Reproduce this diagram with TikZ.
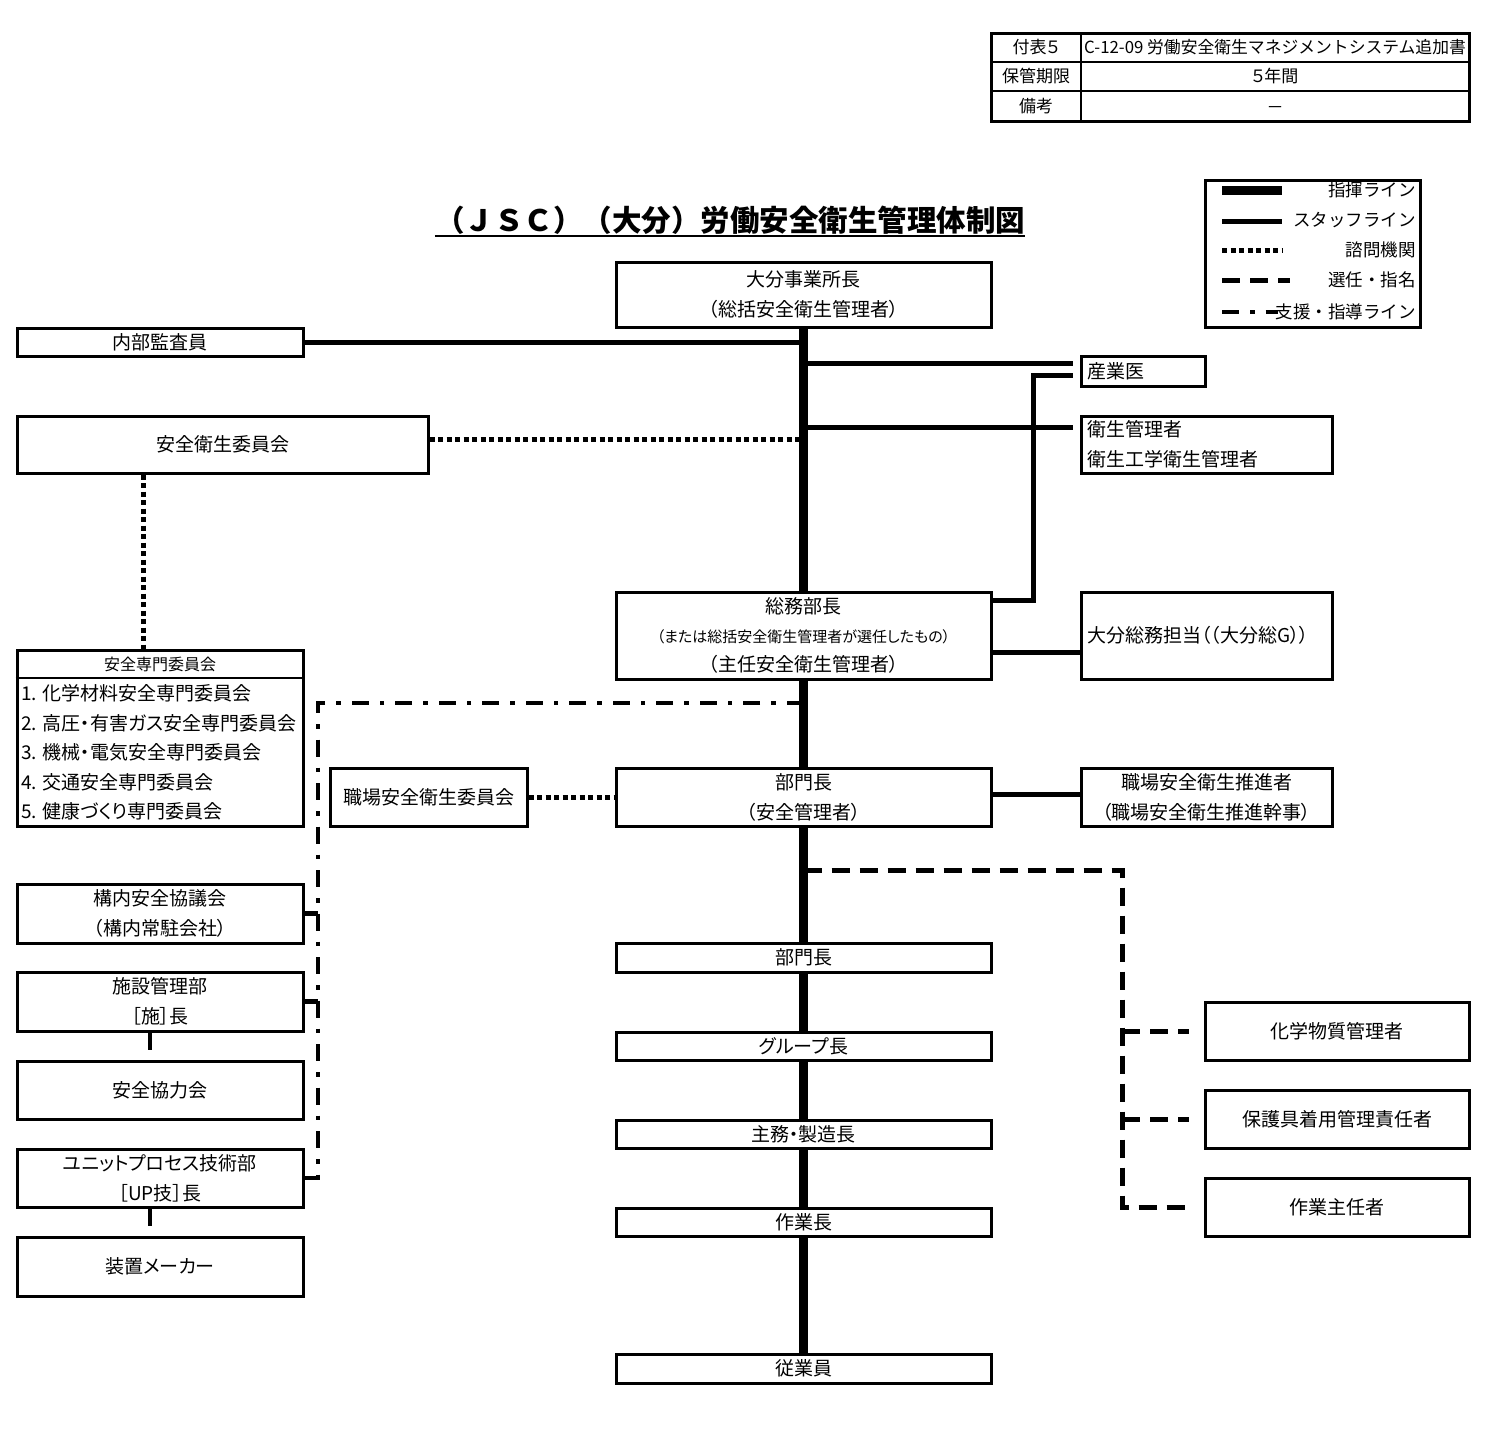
\documentclass[tikz,border=0pt]{standalone}
\usepackage{fontspec}
\setmainfont{Noto Sans CJK JP}[RawFeature=+palt]
\newfontfamily\titlefont{Noto Sans CJK JP}
\usetikzlibrary{calc}
\begin{document}
\begin{tikzpicture}[x=1pt,y=-1pt,
  box/.style={draw, line width=3pt, fill=white, inner sep=0pt, align=center, font=\fontsize{19}{30}\selectfont},
  lbox/.style={box, align=left, inner xsep=6pt},
  lbl/.style={inner sep=0pt, font=\fontsize{19}{30}\selectfont},
  tt/.style={inner sep=0pt, font=\fontsize{17}{20}\selectfont},
  lgt/.style={inner sep=0pt, anchor=east, font=\titlefont\fontsize{17.5}{20}\selectfont},
  cmd/.style={line width=9pt},
  staff/.style={line width=5pt},
  advis/.style={line width=5pt, dash pattern=on 5pt off 3.5pt},
  appoint/.style={line width=5pt, dash pattern=on 18pt off 10pt},
  support/.style={line width=4.5pt, dash pattern=on 17pt off 11pt on 4.5pt off 11pt},
]
\fill[white] (0,0) rectangle (1500,1451);
\useasboundingbox (0,0) rectangle (1500,1451);

% ---- header table ----
\draw[line width=3pt] (991,33) rectangle (1469,121);
\draw[line width=2.5pt] (991,62) -- (1469,62);
\draw[line width=2.5pt] (991,91) -- (1469,91);
\draw[line width=2.5pt] (1081,33) -- (1081,121);
\node[tt] (t11) at (1036,47.5) {付表５};
\node[tt, anchor=west, font=\titlefont\fontsize{16.8}{18}\selectfont] (t12) at (1084,47.5) {C-12-09 労働安全衛生マネジメントシステム追加書};
\node[tt] (t21) at (1036,76.5) {保管期限};
\node[tt] (t22) at (1275,76.5) {５年間};
\node[tt] (t31) at (1036,106) {備考};
\node[tt] (t32) at (1275,110.5) {－};

% ---- title ----
\node[inner sep=0pt, font=\titlefont\fontsize{29.5}{30}\bfseries\selectfont, anchor=base] (title) at (730,231) {（ＪＳＣ）（大分）労働安全衛生管理体制図};
\draw[line width=2pt] ([yshift=-5pt]title.base west) -- ([yshift=-5pt]title.base east);

% ---- legend ----
\node[draw, line width=3pt, minimum width=215pt, minimum height=147pt, inner sep=0pt] (legend) at (1312.5,253.5) {};
\draw[cmd] (1222,190) -- (1282,190);
\draw[staff] (1222,221) -- (1282,221);
\draw[advis] (1222,250) -- (1282,250);
\draw[appoint] (1222,280) -- (1290,280);
\draw[support] (1222,312) -- (1278,312);
\node[lgt] (lg1) at (1416,190) {指揮ライン};
\node[lgt] (lg2) at (1416,220) {スタッフライン};
\node[lgt] (lg3) at (1416,250) {諮問機関};
\node[lgt] (lg4) at (1416,280) {選任・指名};
\node[lgt] (lg5) at (1416,312) {支援・指導ライン};

% ---- centre column ----
\node[box, minimum width=375pt, minimum height=65pt] (jigyo) at (803.5,294.5) {大分事業所長\\（総括安全衛生管理者）};
\node[box, minimum width=375pt, minimum height=87pt, font=\fontsize{19}{29}\selectfont] (somu) at (803.5,635.5) {総務部長\\{\fontsize{15}{29}\selectfont （または総括安全衛生管理者が選任したもの）}\\（主任安全衛生管理者）};
\node[box, minimum width=375pt, minimum height=58pt] (bumon1) at (803.5,797) {部門長\\（安全管理者）};
\node[box, minimum width=375pt, minimum height=29pt] (bumon2) at (803.5,957.5) {部門長};
\node[box, minimum width=375pt, minimum height=28pt] (group) at (803.5,1046) {グループ長};
\node[box, minimum width=375pt, minimum height=28pt] (shumu) at (803.5,1134) {主務・製造長};
\node[box, minimum width=375pt, minimum height=28pt] (sagyocho) at (803.5,1222) {作業長};
\node[box, minimum width=375pt, minimum height=29pt] (jugyoin) at (803.5,1368.5) {従業員};

% ---- left column ----
\node[box, minimum width=286pt, minimum height=28pt] (naibu) at (160,342) {内部監査員};
\node[box, minimum width=411pt, minimum height=57pt] (anzeniinkai) at (222.5,444.5) {安全衛生委員会};
\node[box, minimum width=286pt, minimum height=176pt] (senmon) at (160,738) {};
\draw[line width=2.5pt] (senmon.west |- 0,678) -- (senmon.east |- 0,678);
\node[lbl, font=\fontsize{16}{20}\selectfont] (senmonhead) at (160,664) {安全専門委員会};
\node[lbl, anchor=west] (it1) at (21,693) {1. 化学材料安全専門委員会};
\node[lbl, anchor=west, fill=white, inner ysep=3pt] (it2) at (21,723) {2. 高圧・有害ガス安全専門委員会};
\node[lbl, anchor=west] (it3) at (21,752) {3. 機械・電気安全専門委員会};
\node[lbl, anchor=west] (it4) at (21,782) {4. 交通安全専門委員会};
\node[lbl, anchor=west] (it5) at (21,811) {5. 健康づくり専門委員会};
\node[box, minimum width=197pt, minimum height=58pt] (shokuba) at (428.5,797) {職場安全衛生委員会};
\node[box, minimum width=286pt, minimum height=59pt] (konai) at (160,913.5) {構内安全協議会\\（構内常駐会社）};
\node[box, minimum width=286pt, minimum height=59pt] (shisetsu) at (160,1001.5) {施設管理部\\［施］長};
\node[box, minimum width=286pt, minimum height=58pt] (kyoryoku) at (160,1090) {安全協力会};
\node[box, minimum width=286pt, minimum height=58pt] (unit) at (160,1178) {ユニットプロセス技術部\\［UP技］長};
\node[box, minimum width=286pt, minimum height=59pt] (sochi) at (160,1266.5) {装置メーカー};

% ---- right column ----
\node[lbox, minimum width=124pt, text width=112pt, minimum height=30pt] (sangyoi) at (1143,371) {産業医};
\node[lbox, minimum width=251pt, text width=239pt, minimum height=57pt] (eisei) at (1206.5,444.5) {衛生管理者\\衛生工学衛生管理者};
\node[lbox, minimum width=251pt, text width=239pt, minimum height=87pt] (oita) at (1206.5,635.5) {大分総務担当（（大分総G））};
\node[box, minimum width=251pt, minimum height=58pt] (suishin) at (1206.5,797) {職場安全衛生推進者\\（職場安全衛生推進幹事）};
\node[box, minimum width=264pt, minimum height=58pt] (kagaku) at (1337,1031) {化学物質管理者};
\node[box, minimum width=264pt, minimum height=58pt] (hogo) at (1337,1119) {保護具着用管理責任者};
\node[box, minimum width=264pt, minimum height=58pt] (sagyoshunin) at (1337,1207) {作業主任者};

% ---- command line ----
\draw[cmd] (jigyo.south) -- (somu.north);
\draw[cmd] (somu.south) -- (bumon1.north);
\draw[cmd] (bumon1.south) -- (bumon2.north);
\draw[cmd] (bumon2.south) -- (group.north);
\draw[cmd] (group.south) -- (shumu.north);
\draw[cmd] (shumu.south) -- (sagyocho.north);
\draw[cmd] (sagyocho.south) -- (jugyoin.north);

% ---- staff lines ----
\coordinate (sgEnd1) at (1073,363);
\coordinate (sgEnd2) at (1073,375);
\coordinate (sgBend) at (1033,375);
\coordinate (eiEnd) at (1073,427);
\draw[staff] (naibu.east) -- (naibu.east -| jigyo.south);
\draw[staff] (sgEnd1 -| jigyo.south) -- (sgEnd1);
\draw[staff] (somu.east |- 0,600) -| (sgBend) -- (sgEnd2);
\draw[staff] (eiEnd -| jigyo.south) -- (eiEnd);
\draw[staff] (somu.east |- 0,652) -- (oita.west |- 0,652);
\draw[staff] (bumon1.east |- 0,794) -- (suishin.west |- 0,794);

% ---- advisory ----
\draw[advis] (anzeniinkai.east |- 0,439) -- (jigyo.south |- 0,439);
\draw[advis] (anzeniinkai.south -| 143,0) -- (senmon.north -| 143,0);
\draw[advis] (shokuba.east) -- (bumon1.west |- shokuba.east);

% ---- support / guidance ----
\coordinate (spTop) at (318,703);
\draw[support] (jigyo.south |- spTop) -- (spTop) |- (unit.east);
\draw[support] (spTop |- konai.east) -- (konai.east);
\draw[support] (spTop |- shisetsu.east) -- (shisetsu.east);
\draw[support] (shisetsu.south -| 150,0) -- (kyoryoku.north -| 150,0);
\draw[support] (unit.south -| 150,0) -- (sochi.north -| 150,0);

% ---- appointment ----
\coordinate (apCorner) at (1122,870);
\draw[appoint] (jigyo.south |- apCorner) -- (apCorner) |- ([xshift=-15pt]sagyoshunin.west);
\draw[appoint] (apCorner |- kagaku.west) -- ([xshift=-15pt]kagaku.west);
\draw[appoint] (apCorner |- hogo.west) -- ([xshift=-15pt]hogo.west);
\end{tikzpicture}
\end{document}
